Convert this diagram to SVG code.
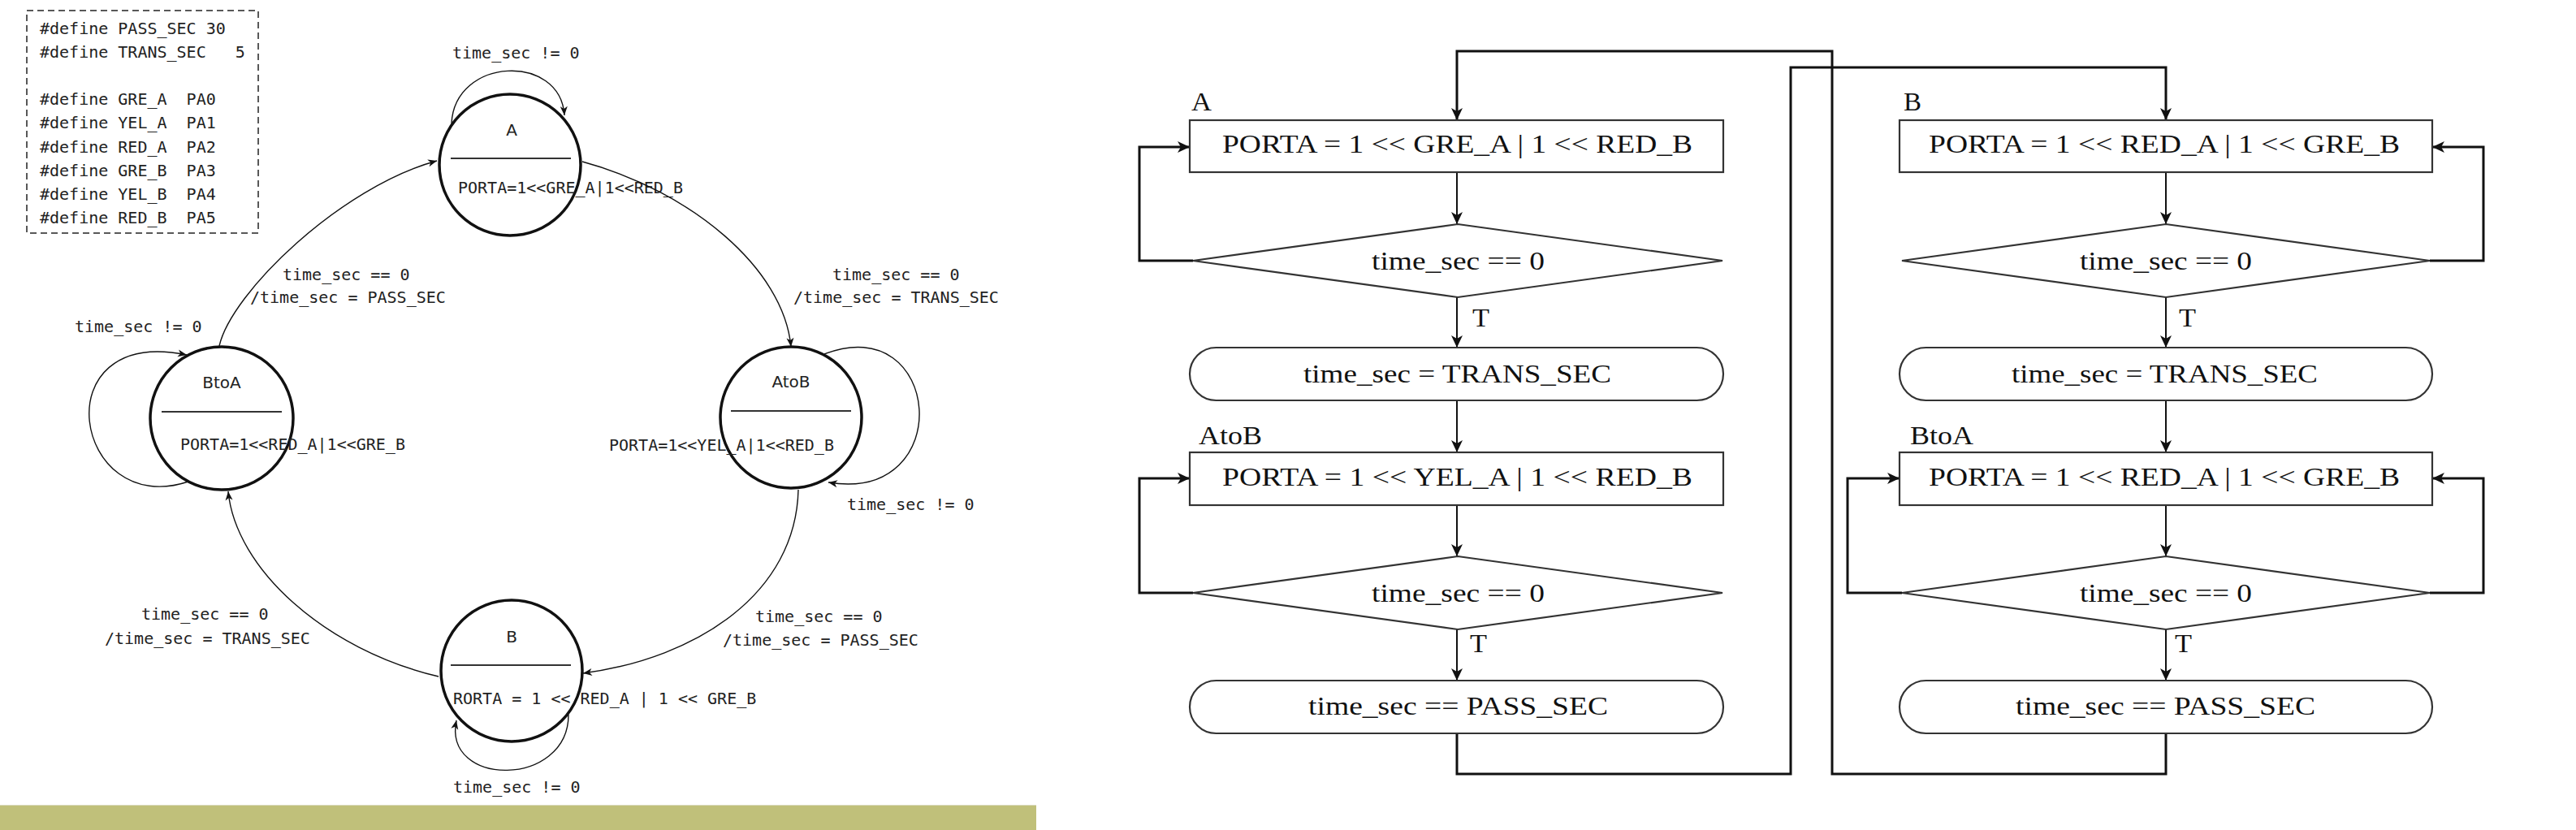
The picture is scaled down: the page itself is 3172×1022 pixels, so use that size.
<svg xmlns="http://www.w3.org/2000/svg" width="3172" height="1022" viewBox="0 0 3172 1022">
<style>
.mono{font-family:"DejaVu Sans Mono","Liberation Mono",monospace;font-size:20px;fill:#222;white-space:pre}
.sans{font-family:"DejaVu Sans","Liberation Sans",sans-serif;font-size:20px;fill:#222;text-anchor:middle}
.st{fill:none;stroke:#111;stroke-width:3.5}
.sep{stroke:#333;stroke-width:2}
.tr{fill:none;stroke:#111;stroke-width:1.4}
.ser{font-family:"Liberation Serif","Times New Roman",serif;font-size:31px;fill:#111}
.mid{text-anchor:middle}
.fn{fill:#fff;stroke:#333;stroke-width:2.2}
.fc{fill:none;stroke:#111;stroke-width:2}
.fl{fill:none;stroke:#111;stroke-width:3}
</style>
<defs>
<marker id="sa" markerUnits="userSpaceOnUse" markerWidth="14" markerHeight="12" viewBox="-1 -6 14 12" refX="11" refY="0" orient="auto">
<path d="M0,-4.5 L11,0 L0,4.5 L3,0 Z" fill="#111"/>
</marker>
<marker id="fa" markerUnits="userSpaceOnUse" markerWidth="18" markerHeight="16" viewBox="-1 -8 18 16" refX="15" refY="0" orient="auto">
<path d="M0,-7 L15,0 L0,7 L4,0 Z" fill="#111"/>
</marker>
</defs>
<rect width="3172" height="1022" fill="#fff"/>

<g id="defines">
<rect x="33" y="13" width="285" height="274" fill="none" stroke="#222" stroke-width="1.5" stroke-dasharray="8 5"/>
<text class="mono" x="49" y="42">#define PASS_SEC 30</text>
<text class="mono" x="49" y="71">#define TRANS_SEC   5</text>
<text class="mono" x="49" y="129">#define GRE_A  PA0</text>
<text class="mono" x="49" y="158">#define YEL_A  PA1</text>
<text class="mono" x="49" y="188">#define RED_A  PA2</text>
<text class="mono" x="49" y="217">#define GRE_B  PA3</text>
<text class="mono" x="49" y="246">#define YEL_B  PA4</text>
<text class="mono" x="49" y="275">#define RED_B  PA5</text>
</g>

<g id="state-A">
<circle class="st" cx="628" cy="203" r="87"/>
<line class="sep" x1="555" y1="195" x2="703" y2="195"/>
<text class="sans" x="630" y="167">A</text>
<text class="mono" x="564" y="238">PORTA=1&lt;&lt;GRE_A|1&lt;&lt;RED_B</text>
</g>
<g id="state-AtoB">
<circle class="st" cx="974" cy="514" r="87"/>
<line class="sep" x1="900" y1="506" x2="1048" y2="506"/>
<text class="sans" x="974" y="477">AtoB</text>
<text class="mono" x="750" y="555">PORTA=1&lt;&lt;YEL_A|1&lt;&lt;RED_B</text>
</g>
<g id="state-B">
<circle class="st" cx="630" cy="826" r="87"/>
<line class="sep" x1="555" y1="819" x2="703" y2="819"/>
<text class="sans" x="630" y="791">B</text>
<text class="mono" x="558" y="867">RORTA = 1 &lt;&lt; RED_A | 1 &lt;&lt; GRE_B</text>
</g>
<g id="state-BtoA">
<circle class="st" cx="273" cy="515" r="88"/>
<line class="sep" x1="199" y1="507" x2="347" y2="507"/>
<text class="sans" x="273" y="478">BtoA</text>
<text class="mono" x="222" y="554">PORTA=1&lt;&lt;RED_A|1&lt;&lt;GRE_B</text>
</g>

<g id="state-connectors">
<path class="tr" d="M556,152 C560,70 690,65 695,142" marker-end="url(#sa)"/>
<path class="tr" d="M717,199 C850,235 965,330 974,427" marker-end="url(#sa)"/>
<path class="tr" d="M1015,436 C1160,380 1180,620 1020,594" marker-end="url(#sa)"/>
<path class="tr" d="M983,603 C980,730 860,810 718,829" marker-end="url(#sa)"/>
<path class="tr" d="M700,880 C700,970 545,970 562,887" marker-end="url(#sa)"/>
<path class="tr" d="M540,833 C400,800 290,700 281,605" marker-end="url(#sa)"/>
<path class="tr" d="M232,593 C90,640 50,400 230,437" marker-end="url(#sa)"/>
<path class="tr" d="M270,426 C285,360 420,230 538,198" marker-end="url(#sa)"/>
<text class="mono" x="557" y="72">time_sec != 0</text>
<text class="mono" x="1025" y="345">time_sec == 0</text>
<text class="mono" x="977" y="373">/time_sec = TRANS_SEC</text>
<text class="mono" x="1043" y="628">time_sec != 0</text>
<text class="mono" x="930" y="766">time_sec == 0</text>
<text class="mono" x="890" y="795">/time_sec = PASS_SEC</text>
<text class="mono" x="558" y="976">time_sec != 0</text>
<text class="mono" x="174" y="763">time_sec == 0</text>
<text class="mono" x="129" y="793">/time_sec = TRANS_SEC</text>
<text class="mono" x="92" y="409">time_sec != 0</text>
<text class="mono" x="348" y="345">time_sec == 0</text>
<text class="mono" x="308" y="373">/time_sec = PASS_SEC</text>
</g>

<rect id="bar" x="0" y="991" width="1276" height="31" fill="#c0c07a"/>
<line x1="0" y1="991.5" x2="1276" y2="991.5" stroke="#d9d9bc" stroke-width="1"/>

<g id="flow-connectors">
<line class="fc" x1="1794" y1="212" x2="1794" y2="276" marker-end="url(#fa)"/>
<line class="fc" x1="1794" y1="366" x2="1794" y2="428" marker-end="url(#fa)"/>
<line class="fc" x1="1794" y1="493" x2="1794" y2="557" marker-end="url(#fa)"/>
<line class="fc" x1="1794" y1="622" x2="1794" y2="685" marker-end="url(#fa)"/>
<line class="fc" x1="1794" y1="775" x2="1794" y2="838" marker-end="url(#fa)"/>
<polyline class="fl" points="1469,321 1403,321 1403,181 1465,181" marker-end="url(#fa)"/>
<polyline class="fl" points="1469,730 1403,730 1403,589 1465,589" marker-end="url(#fa)"/>
<polyline class="fl" points="1794,903 1794,953 2205,953 2205,83 2667,83 2667,148" marker-end="url(#fa)"/>
<line class="fc" x1="2667" y1="212" x2="2667" y2="276" marker-end="url(#fa)"/>
<line class="fc" x1="2667" y1="366" x2="2667" y2="428" marker-end="url(#fa)"/>
<line class="fc" x1="2667" y1="493" x2="2667" y2="557" marker-end="url(#fa)"/>
<line class="fc" x1="2667" y1="622" x2="2667" y2="685" marker-end="url(#fa)"/>
<line class="fc" x1="2667" y1="775" x2="2667" y2="838" marker-end="url(#fa)"/>
<polyline class="fl" points="2992,321 3058,321 3058,181 2995,181" marker-end="url(#fa)"/>
<polyline class="fl" points="2342,730 2275,730 2275,589 2339,589" marker-end="url(#fa)"/>
<polyline class="fl" points="2992,730 3058,730 3058,589 2995,589" marker-end="url(#fa)"/>
<polyline class="fl" points="2667,903 2667,953 2256,953 2256,63 1794,63 1794,148" marker-end="url(#fa)"/>
<text class="ser" x="1813" y="402" textLength="21" lengthAdjust="spacingAndGlyphs">T</text>
<text class="ser" x="1810" y="803" textLength="21" lengthAdjust="spacingAndGlyphs">T</text>
<text class="ser" x="2683" y="402" textLength="21" lengthAdjust="spacingAndGlyphs">T</text>
<text class="ser" x="2678" y="803" textLength="21" lengthAdjust="spacingAndGlyphs">T</text>
</g>

<g id="flow-A">
<text class="ser" x="1467" y="136" textLength="25" lengthAdjust="spacingAndGlyphs">A</text>
<rect class="fn" x="1465" y="148" width="657" height="64"/>
<text class="ser mid" x="1794.5" y="188" textLength="579" lengthAdjust="spacingAndGlyphs">PORTA = 1 &lt;&lt; GRE_A | 1 &lt;&lt; RED_B</text>
</g>
<g id="flow-A-check">
<polygon class="fn" points="1795,276 2121,321 1795,366 1469,321"/>
<text class="ser mid" x="1795.5" y="332" textLength="213" lengthAdjust="spacingAndGlyphs">time_sec == 0</text>
</g>
<g id="flow-A-set">
<rect class="fn" x="1465" y="428" width="657" height="65" rx="32.5"/>
<text class="ser mid" x="1794.5" y="471" textLength="379" lengthAdjust="spacingAndGlyphs">time_sec = TRANS_SEC</text>
</g>
<g id="flow-AtoB">
<text class="ser" x="1476" y="547" textLength="78" lengthAdjust="spacingAndGlyphs">AtoB</text>
<rect class="fn" x="1465" y="557" width="657" height="65"/>
<text class="ser mid" x="1794.5" y="598" textLength="579" lengthAdjust="spacingAndGlyphs">PORTA = 1 &lt;&lt; YEL_A | 1 &lt;&lt; RED_B</text>
</g>
<g id="flow-AtoB-check">
<polygon class="fn" points="1795,685 2121,730 1795,775 1469,730"/>
<text class="ser mid" x="1795.5" y="741" textLength="213" lengthAdjust="spacingAndGlyphs">time_sec == 0</text>
</g>
<g id="flow-AtoB-set">
<rect class="fn" x="1465" y="838" width="657" height="65" rx="32.5"/>
<text class="ser mid" x="1795.5" y="880" textLength="369" lengthAdjust="spacingAndGlyphs">time_sec == PASS_SEC</text>
</g>

<g id="flow-B">
<text class="ser" x="2344" y="136" textLength="22" lengthAdjust="spacingAndGlyphs">B</text>
<rect class="fn" x="2339" y="148" width="656" height="64"/>
<text class="ser mid" x="2665" y="188" textLength="580" lengthAdjust="spacingAndGlyphs">PORTA = 1 &lt;&lt; RED_A | 1 &lt;&lt; GRE_B</text>
</g>
<g id="flow-B-check">
<polygon class="fn" points="2667,276 2992,321 2667,366 2342,321"/>
<text class="ser mid" x="2667" y="332" textLength="212" lengthAdjust="spacingAndGlyphs">time_sec == 0</text>
</g>
<g id="flow-B-set">
<rect class="fn" x="2339" y="428" width="656" height="65" rx="32.5"/>
<text class="ser mid" x="2665.5" y="471" textLength="377" lengthAdjust="spacingAndGlyphs">time_sec = TRANS_SEC</text>
</g>
<g id="flow-BtoA">
<text class="ser" x="2352" y="547" textLength="78" lengthAdjust="spacingAndGlyphs">BtoA</text>
<rect class="fn" x="2339" y="557" width="656" height="65"/>
<text class="ser mid" x="2665" y="598" textLength="580" lengthAdjust="spacingAndGlyphs">PORTA = 1 &lt;&lt; RED_A | 1 &lt;&lt; GRE_B</text>
</g>
<g id="flow-BtoA-check">
<polygon class="fn" points="2667,685 2992,730 2667,775 2342,730"/>
<text class="ser mid" x="2667" y="741" textLength="212" lengthAdjust="spacingAndGlyphs">time_sec == 0</text>
</g>
<g id="flow-BtoA-set">
<rect class="fn" x="2339" y="838" width="656" height="65" rx="32.5"/>
<text class="ser mid" x="2666.5" y="880" textLength="369" lengthAdjust="spacingAndGlyphs">time_sec == PASS_SEC</text>
</g>
</svg>
